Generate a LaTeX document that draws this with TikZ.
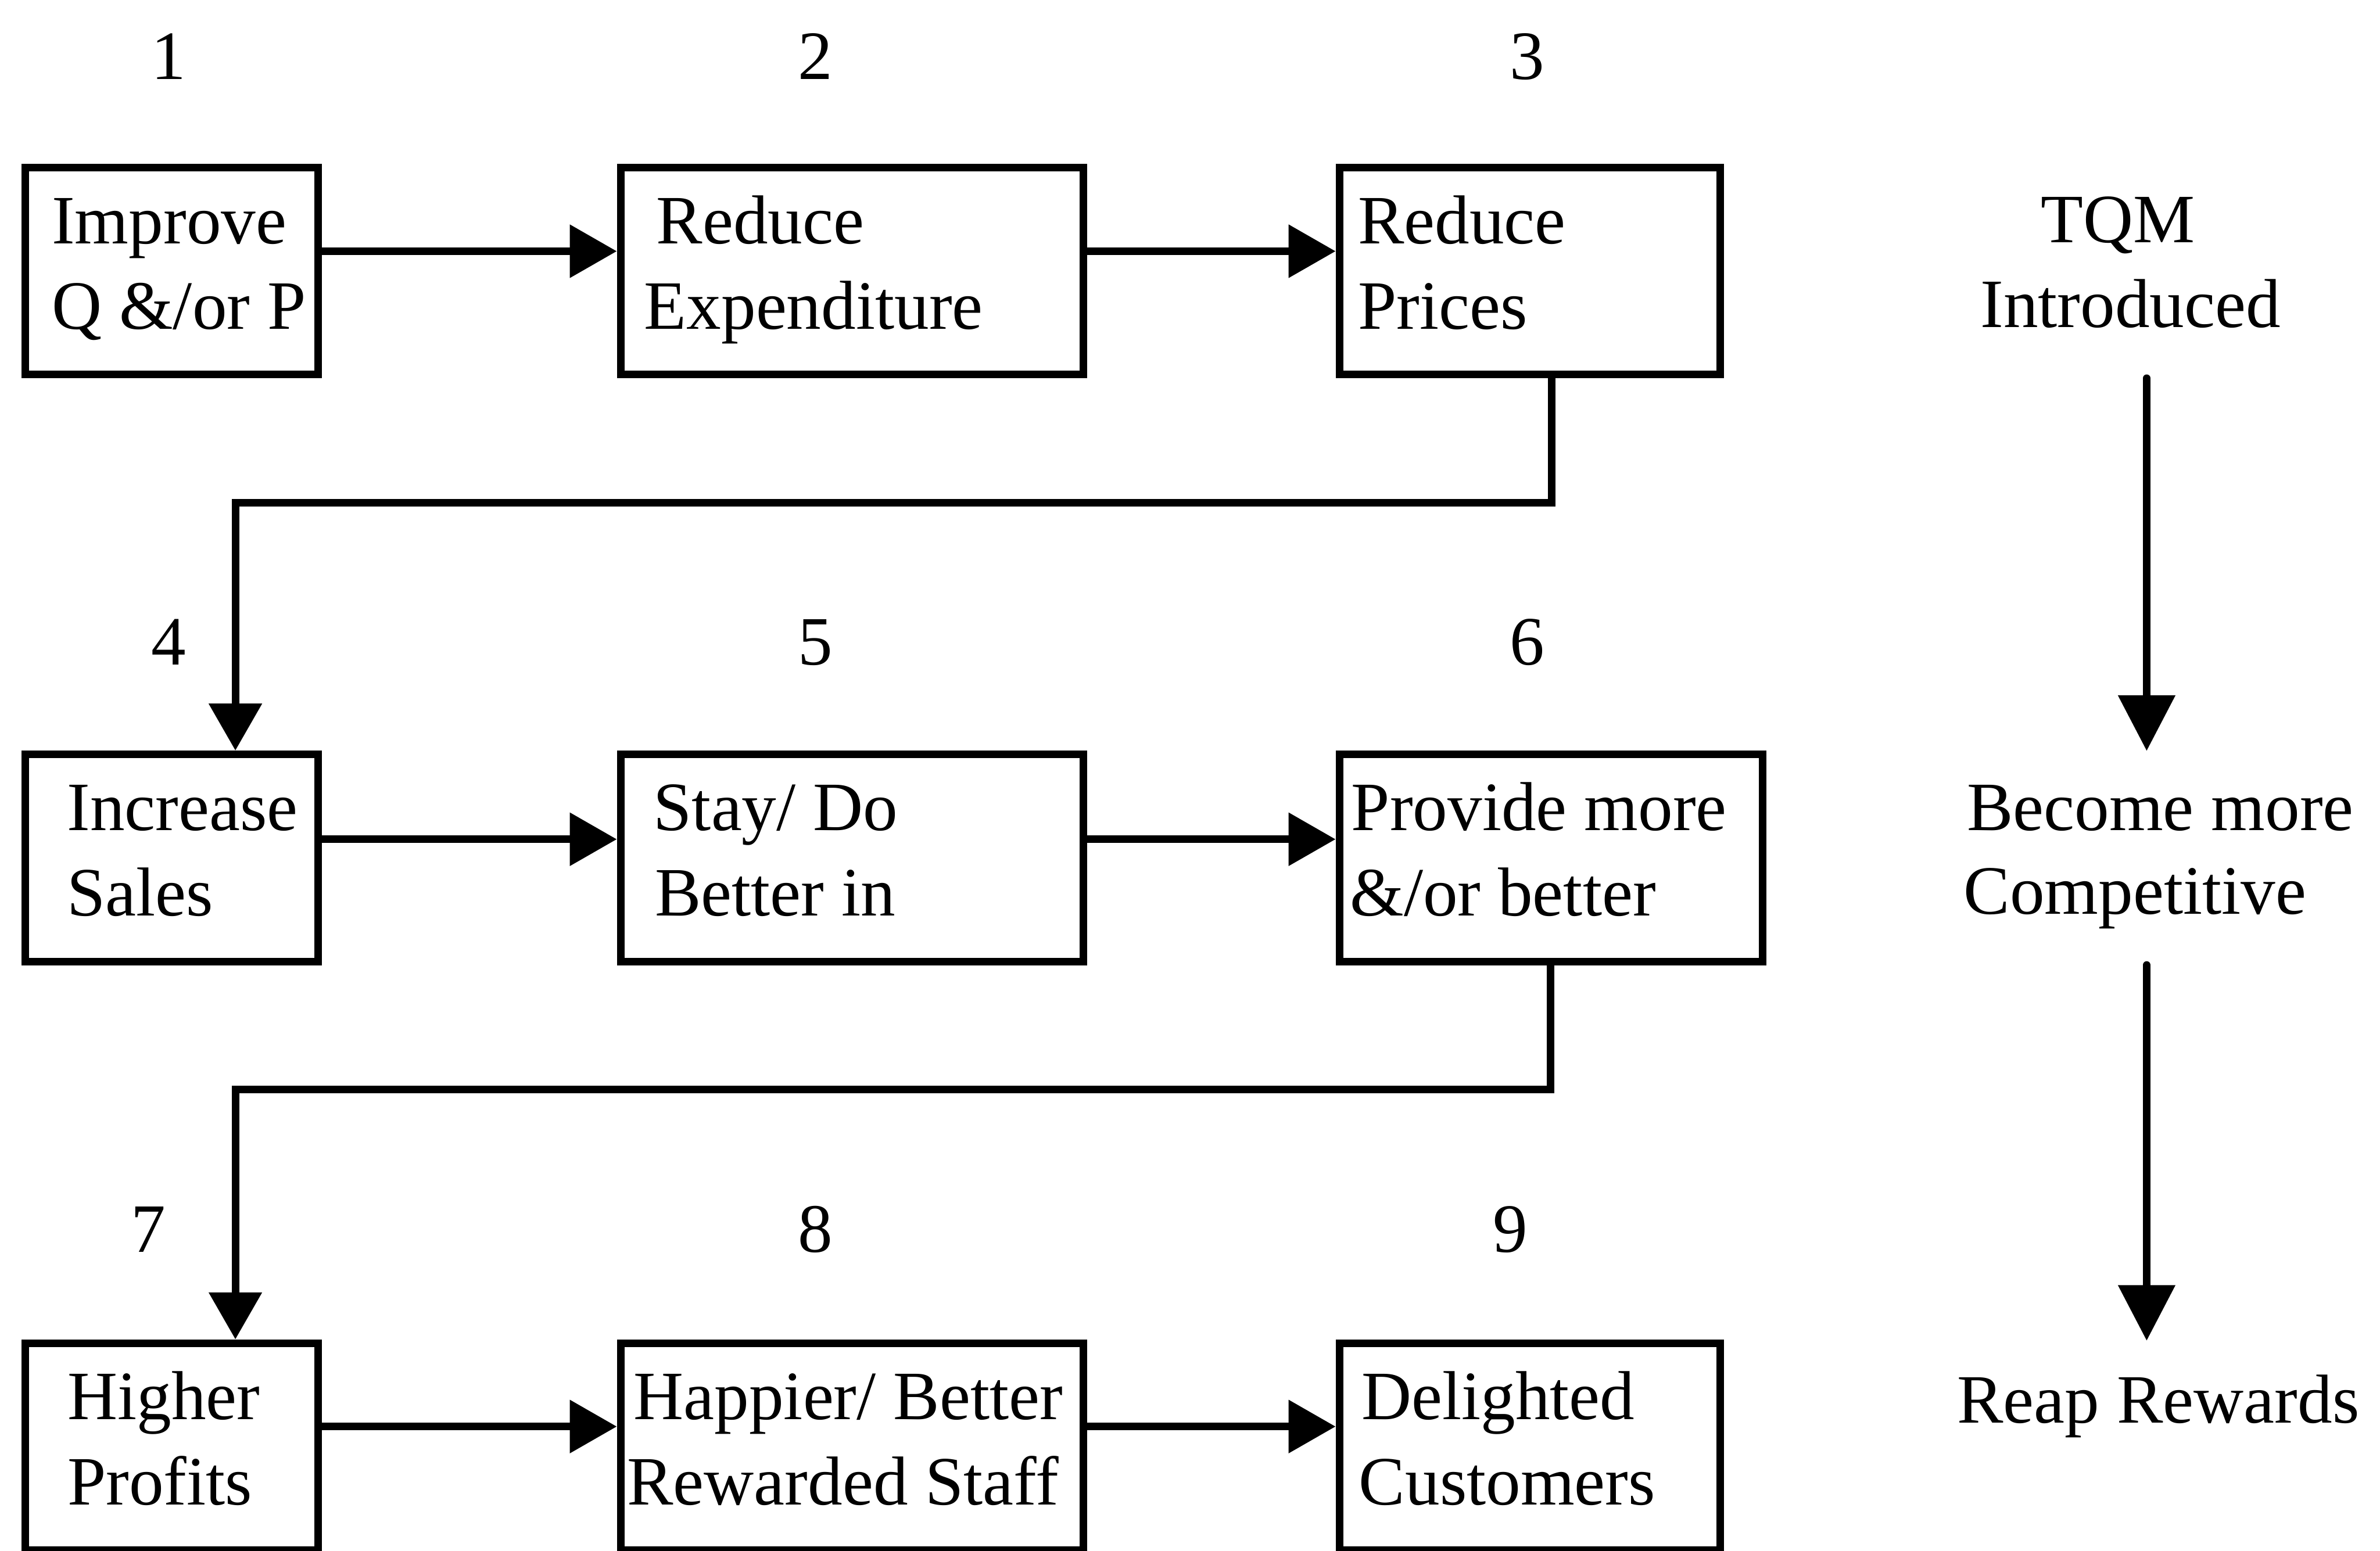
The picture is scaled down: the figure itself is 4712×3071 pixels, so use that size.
\documentclass[tikz,border=0pt]{standalone}
\usepackage{fontspec}
\setmainfont{Liberation Serif}
\usetikzlibrary{arrows.meta,calc}
\begin{document}
\begin{tikzpicture}[x=0.01cm,y=-0.01cm,
  stage/.style={draw, line width=1.5mm, inner sep=0pt, minimum height=4.1cm},
  txt/.style={anchor=base west, inner sep=0pt, font=\fontsize{39}{47}\selectfont},
  ctxt/.style={anchor=base, inner sep=0pt, font=\fontsize{39}{47}\selectfont},
  flow/.style={line width=1.5mm, -{Triangle[length=0.93cm,width=1.02cm]}},
  lead/.style={line width=1.5mm, line cap=round, -{Triangle[length=1.1cm,width=1.1cm]}}]
\clip (0,0) rectangle (4712,3071);

% stage numbers
\node[ctxt] (n1) at (334,157) {1};
\node[ctxt] (n2) at (1614,157) {2};
\node[ctxt] (n3) at (3023,157) {3};
\node[ctxt] (n4) at (334,1317) {4};
\node[ctxt] (n5) at (1614,1317) {5};
\node[ctxt] (n6) at (3023,1317) {6};
\node[ctxt] (n7) at (294,2480) {7};
\node[ctxt] (n8) at (1614,2480) {8};
\node[ctxt] (n9) at (2990,2480) {9};

% boxes
\node[stage, minimum width=5.8cm]  (b1) at (340,536.5) {};
\node[stage, minimum width=9.16cm] (b2) at (1687,536.5) {};
\node[stage, minimum width=7.54cm] (b3) at (3029,536.5) {};
\node[stage, minimum width=5.8cm]  (b4) at (340,1699) {};
\node[stage, minimum width=9.16cm] (b5) at (1687,1699) {};
\node[stage, minimum width=8.37cm] (b6) at (3070.5,1699) {};
\node[stage, minimum width=5.8cm]  (b7) at (340,2865) {};
\node[stage, minimum width=9.16cm] (b8) at (1687,2865) {};
\node[stage, minimum width=7.54cm] (b9) at (3029,2865) {};

% box texts
\node[txt] (t1a) at (102,483) {Improve};
\node[txt] (t1b) at (102,652) {Q \&/or P};
\node[txt] (t2a) at (1299,483) {Reduce};
\node[txt] (t2b) at (1275,652) {Expenditure};
\node[txt] (t3a) at (2688,483) {Reduce};
\node[txt] (t3b) at (2688,652) {Prices};
\node[txt] (t4a) at (132,1645) {Increase};
\node[txt] (t4b) at (132,1814) {Sales};
\node[txt] (t5a) at (1293,1645) {Stay/ Do};
\node[txt] (t5b) at (1296,1814) {Better in};
\node[txt] (t6a) at (2675,1645) {Provide more};
\node[txt] (t6b) at (2672,1814) {\&/or better};
\node[txt] (t7a) at (133,2811) {Higher};
\node[txt] (t7b) at (133,2980) {Profits};
\node[txt] (t8a) at (1254,2811) {Happier/ Better};
\node[txt] (t8b) at (1241,2980) {Rewarded Staff};
\node[txt] (t9a) at (2695,2811) {Delighted};
\node[txt] (t9b) at (2690,2980) {Customers};

% horizontal flow
\draw[flow] ($(b1.east)+(0,-39)$) -- ($(b2.west)+(0,-39)$);
\draw[flow] ($(b2.east)+(0,-39)$) -- ($(b3.west)+(0,-39)$);
\draw[flow] ($(b4.east)+(0,-37)$) -- ($(b5.west)+(0,-37)$);
\draw[flow] ($(b5.east)+(0,-37)$) -- ($(b6.west)+(0,-37)$);
\draw[flow] ($(b7.east)+(0,-40)$) -- ($(b8.west)+(0,-40)$);
\draw[flow] ($(b8.east)+(0,-40)$) -- ($(b9.west)+(0,-40)$);

% row returns
\coordinate (k1) at (3072,996);
\coordinate (k2) at (466,996);
\draw[flow] (b3.south -| k1) -- (k1) -- (k2) -- (b4.north -| k2);
\coordinate (k3) at (3070,2157);
\coordinate (k4) at (466,2157);
\draw[flow] (b6.south -| k3) -- (k3) -- (k4) -- (b7.north -| k4);

% right column
\node[ctxt] (r1) at (4193,480) {TQM};
\node[ctxt] (r2) at (4218,648) {Introduced};
\node[ctxt] (r3) at (4277,1645) {Become more};
\node[ctxt] (r4) at (4227,1810) {Competitive};
\node[ctxt] (r5) at (4273,2818) {Reap Rewards};
\coordinate (s1) at (4250,749);
\coordinate (e1) at (4250,1487);
\coordinate (s2) at (4250,1911);
\coordinate (e2) at (4250,2655);
\draw[lead] (s1) -- (e1);
\draw[lead] (s2) -- (e2);
\end{tikzpicture}
\end{document}
